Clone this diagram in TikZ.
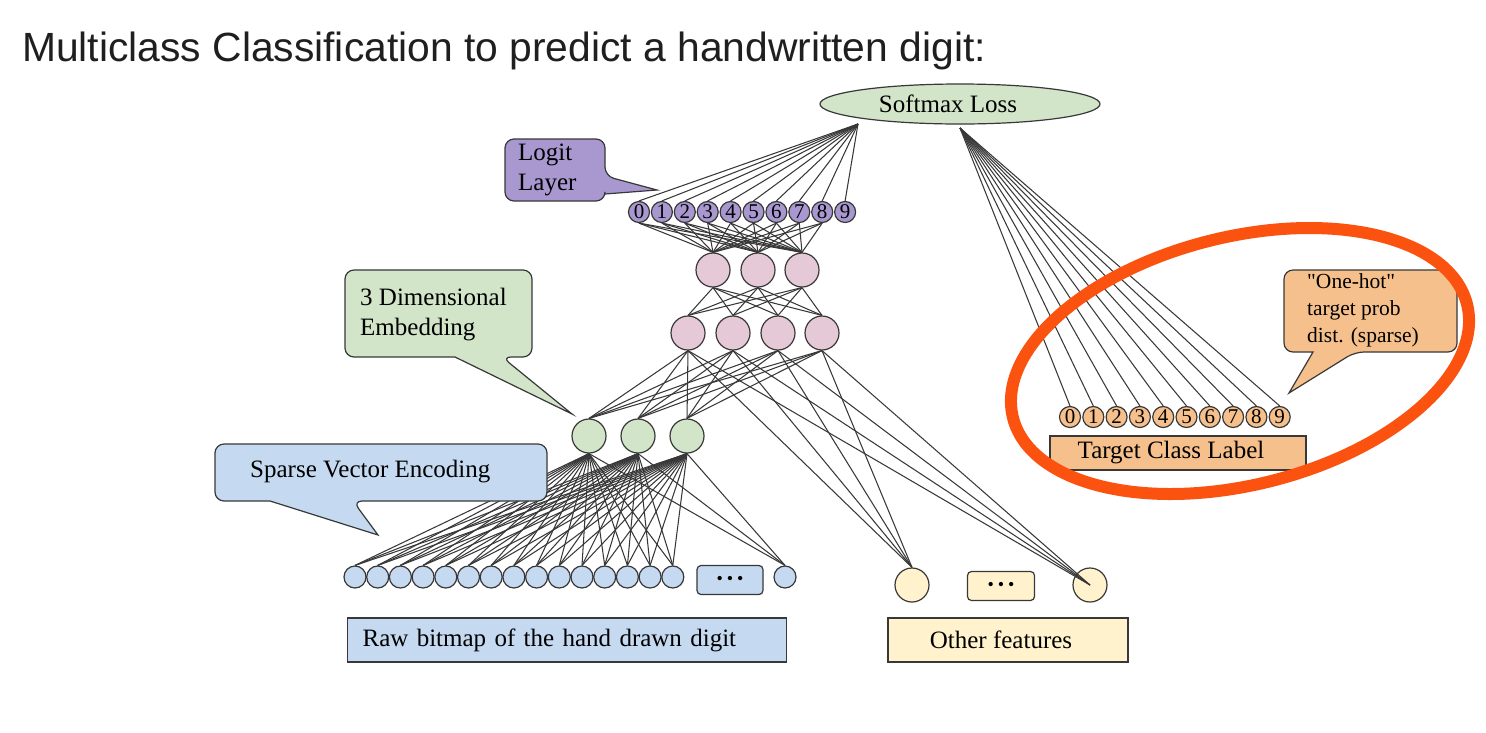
\documentclass[tikz,border=0pt]{standalone}
\usepackage{fontspec}
\setmainfont{Liberation Serif}
\newfontfamily\titlefont{Liberation Sans}
\usetikzlibrary{shapes.geometric}
\pgfdeclarelayer{bg}
\pgfsetlayers{bg,main}
\definecolor{cpurple}{HTML}{A898CF}
\definecolor{cpink}{HTML}{E6C9D7}
\definecolor{cgreen}{HTML}{D2E5C9}
\definecolor{cblue}{HTML}{C5D9F0}
\definecolor{cyellow}{HTML}{FFF2CC}
\definecolor{corange}{HTML}{F6C08C}
\definecolor{cred}{HTML}{FC5210}
\definecolor{cline}{HTML}{383838}
\begin{document}
\begin{tikzpicture}[x=1pt,y=-1pt,
  every node/.style={font=\fontsize{25}{30}\selectfont},
  neuron/.style={circle,draw=cline,line width=1.2pt,inner sep=0pt},
  digit/.style={neuron,minimum size=21pt,font=\fontsize{21}{21}\selectfont},
  bignode/.style={neuron,minimum size=34pt},
  smallnode/.style={neuron,minimum size=22pt,fill=cblue},
  conn/.style={draw=cline,line width=1.05pt},
  labelbox/.style={draw=cline,line width=1.2pt,inner sep=0pt,rectangle},
  dotsbox/.style={draw=cline,line width=1.2pt,rectangle,rounded corners=4pt,inner sep=0pt,font=\fontsize{18}{18}\selectfont},
  callout/.style={draw=cline,line width=1.2pt,rounded corners=9pt},
  ctext/.style={anchor=west,align=left,inner sep=0pt},
]
\useasboundingbox (0,0) rectangle (1486,732);
\begin{pgfonlayer}{bg}
\fill[white] (0,0) rectangle (1486,732);
\end{pgfonlayer}

% title
\node[anchor=base west,inner sep=0pt,font=\titlefont\fontsize{40.8}{48}\selectfont,text=black!88] (title) at (22,61) {Multiclass Classification to predict a handwritten digit:};

% softmax
\node[ellipse,draw=cline,line width=1.2pt,fill=cgreen,minimum width=280pt,minimum height=40pt,inner sep=0pt] (sm) at (960,104) {\hspace*{-24pt}Softmax Loss};
\coordinate (smL) at (858,124);
\coordinate (smR) at (960,128);

% logit layer
\foreach \i in {0,...,9}
  \node[digit,fill=cpurple] (l\i) at ({639+22.9*\i},212) {\i};
% hidden layers
\foreach \x [count=\j] in {713,758,802}
  \node[bignode,fill=cpink] (p\j) at (\x,270) {};
\foreach \x [count=\j] in {688,733,778,822}
  \node[bignode,fill=cpink] (q\j) at (\x,333) {};
\foreach \x [count=\j] in {589,638,687}
  \node[bignode,fill=cgreen] (g\j) at (\x,436) {};
% sparse inputs
\foreach \j in {1,...,15}
  \node[smallnode] (b\j) at ({355+22.7*(\j-1)},577) {};
\node[dotsbox,fill=cblue,minimum width=66pt,minimum height=29pt] (bdots) at (730,580) {\textbullet\hspace{4pt}\textbullet\hspace{4pt}\textbullet};
\node[smallnode] (b16) at (785,577) {};
% other features
\node[bignode,fill=cyellow] (y1) at (912,585) {};
\node[dotsbox,fill=cyellow,minimum width=67pt,minimum height=29pt] (ydots) at (1001,586) {\textbullet\hspace{4pt}\textbullet\hspace{4pt}\textbullet};
\node[bignode,fill=cyellow] (y2) at (1090,585) {};
% target
\foreach \i in {0,...,9}
  \node[digit,fill=corange] (t\i) at ({1070+23.3*\i},417) {\i};

% labels
\node[labelbox,fill=cblue,anchor=west,minimum width=439pt,minimum height=44pt,text width=409pt,inner xsep=15pt,align=left] (raw) at (347,640) {Raw bitmap of the hand drawn digit};
\node[labelbox,fill=cyellow,minimum width=240pt,minimum height=44pt] (other) at (1008,640) {\hspace*{-14pt}Other features};
\node[labelbox,fill=corange,minimum width=256pt,minimum height=34pt] (target) at (1178,453) {\hspace*{-14pt}Target Class Label};

% callouts
\draw[callout,fill=cpurple] (505,170) -- (505,139) -- (605,139) -- (605,176) [sharp corners] -- (657,190) -- (605,194) [rounded corners=9pt] -- (605,201) -- (505,201) -- cycle;
\node[ctext] (logitlbl) at (518,170) {Logit\\Layer};

\draw[callout,fill=cgreen] (345,310) -- (345,270) -- (532,270) -- (532,357) -- (502,357) [sharp corners] -- (572,414) -- (455,357) [rounded corners=9pt] -- (345,357) -- cycle;
\node[ctext] (emblbl) at (360,315) {3 Dimensional\\Embedding};

\draw[callout,fill=cblue] (215,470) -- (215,444) -- (547,444) -- (547,501) -- (353,501) [sharp corners] -- (378,535) -- (270,501) [rounded corners=9pt] -- (215,501) -- cycle;
\node[ctext] (sparselbl) at (250,472) {Sparse Vector Encoding};

\draw[callout,fill=corange] (1284,310) -- (1284,270) -- (1457,270) -- (1457,352) -- (1355,352) [sharp corners] -- (1289,393) -- (1313,352) [rounded corners=9pt] -- (1284,352) -- cycle;
\node[ctext,font=\fontsize{21.5}{27}\selectfont] (onehotlbl) at (1307,310) {\textquotedbl One-hot\textquotedbl\\target prob\\dist. (sparse)};

% connectors
\begin{pgfonlayer}{bg}
\foreach \i in {0,...,9} \draw[conn] (smL) -- (l\i.north);
\foreach \i in {0,...,9} \draw[conn] (smR) -- (t\i.north);
\foreach \i in {0,...,8} \foreach \j in {1,2,3} \draw[conn] (l\i.south) -- (p\j.north);
\foreach \j in {1,2,3} \foreach \k in {1,...,4} \draw[conn] (p\j.south) -- (q\k.north);
\foreach \k in {1,...,4} \foreach \m in {1,2,3} \draw[conn] (q\k.south) -- (g\m.north);
\foreach \k in {1,...,4} \draw[conn] (q\k.south) -- (y1.north);
\foreach \m in {1,2,3} \foreach \n in {1,...,16} \draw[conn] (g\m.south) -- (b\n.north);
\end{pgfonlayer}
\foreach \k in {1,...,4} \draw[conn] (q\k.south) -- (y2.center);

% highlight
\draw[cred,line width=12pt,rotate around={14:(1240,361)}] (1240,361) ellipse [x radius=234, y radius=124];
\end{tikzpicture}
\end{document}
